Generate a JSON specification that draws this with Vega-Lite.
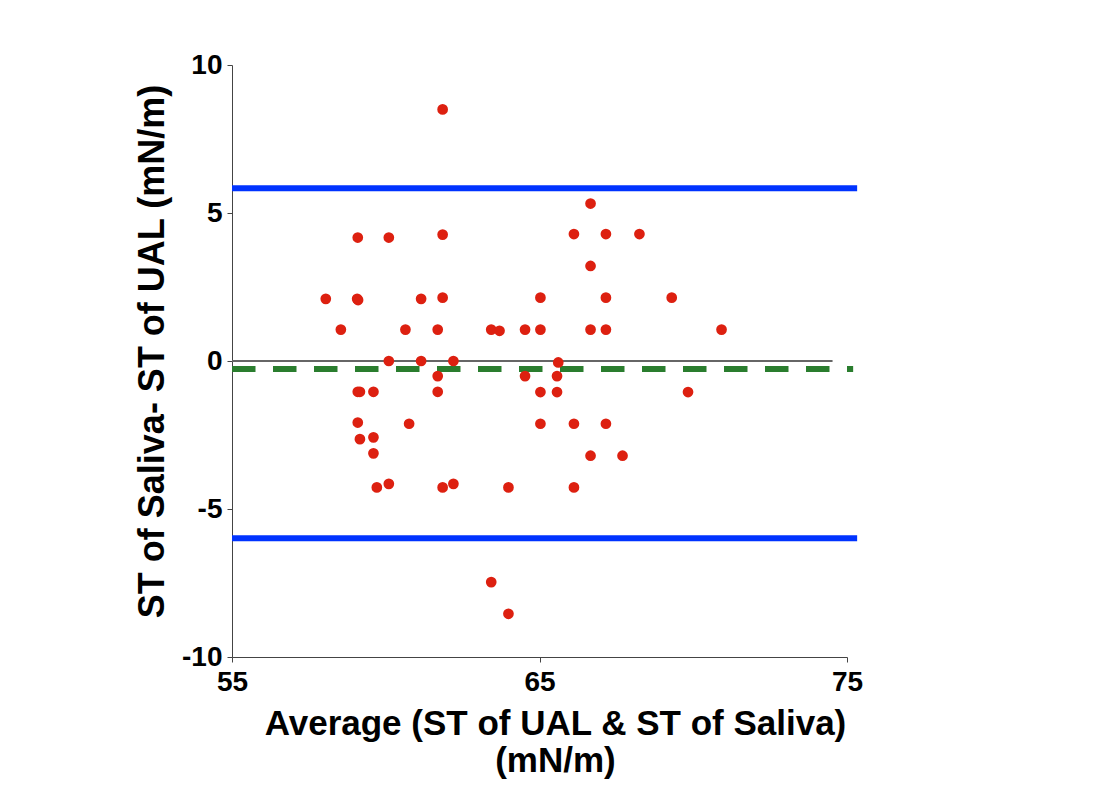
{
  "$schema": "https://vega.github.io/schema/vega-lite/v6.json",
  "width": 615,
  "height": 592,
  "autosize": {"type": "none"},
  "padding": {"left": 232, "top": 65, "right": 262, "bottom": 135},
  "background": "white",
  "config": {
    "view": {"stroke": null},
    "axis": {
      "grid": false,
      "domainColor": "#444",
      "tickColor": "#444",
      "tickSize": 5,
      "labelFont": "Liberation Sans",
      "labelFontWeight": "bold",
      "labelFontSize": 28,
      "labelColor": "black",
      "labelFlush": false,
      "titleFont": "Liberation Sans",
      "titleFontWeight": "bold",
      "titleFontSize": 36,
      "titleColor": "black"
    }
  },
  "datasets": {
    "points": [
      {"avg": 58.05, "diff": 2.1},
      {"avg": 58.54, "diff": 1.06},
      {"avg": 59.09, "diff": 4.17},
      {"avg": 59.07, "diff": 2.1},
      {"avg": 59.1, "diff": 2.06},
      {"avg": 59.09, "diff": -1.04},
      {"avg": 59.16, "diff": -1.04},
      {"avg": 59.6, "diff": -1.04},
      {"avg": 59.09, "diff": -2.08},
      {"avg": 59.16, "diff": -2.64},
      {"avg": 59.6, "diff": -2.58},
      {"avg": 59.6, "diff": -3.12},
      {"avg": 59.71, "diff": -4.27},
      {"avg": 60.1, "diff": -4.15},
      {"avg": 60.1, "diff": 4.17},
      {"avg": 60.1, "diff": 0.0},
      {"avg": 60.64, "diff": 1.06},
      {"avg": 60.76, "diff": -2.12},
      {"avg": 61.15, "diff": 2.1},
      {"avg": 61.15, "diff": 0.0},
      {"avg": 61.69, "diff": 1.06},
      {"avg": 61.69, "diff": -0.51},
      {"avg": 61.69, "diff": -1.04},
      {"avg": 61.85, "diff": 8.5},
      {"avg": 61.85, "diff": 4.27},
      {"avg": 61.85, "diff": 2.14},
      {"avg": 61.85, "diff": -4.27},
      {"avg": 62.2, "diff": -4.15},
      {"avg": 62.2, "diff": 0.0},
      {"avg": 63.43, "diff": 1.06},
      {"avg": 63.7, "diff": 1.02},
      {"avg": 63.43, "diff": -7.47},
      {"avg": 63.99, "diff": -4.27},
      {"avg": 63.99, "diff": -8.54},
      {"avg": 64.53, "diff": 1.06},
      {"avg": 64.53, "diff": -0.51},
      {"avg": 65.03, "diff": 2.14},
      {"avg": 65.03, "diff": 1.06},
      {"avg": 65.03, "diff": -1.05},
      {"avg": 65.03, "diff": -2.12},
      {"avg": 65.57, "diff": -0.51},
      {"avg": 65.57, "diff": -1.05},
      {"avg": 65.61, "diff": -0.05},
      {"avg": 66.12, "diff": 4.29},
      {"avg": 66.12, "diff": -2.12},
      {"avg": 66.12, "diff": -4.27},
      {"avg": 66.66, "diff": 5.32},
      {"avg": 66.66, "diff": 3.21},
      {"avg": 66.66, "diff": 1.06},
      {"avg": 66.66, "diff": -3.2},
      {"avg": 67.16, "diff": 4.29},
      {"avg": 67.16, "diff": 2.14},
      {"avg": 67.16, "diff": 1.06},
      {"avg": 67.16, "diff": -2.12},
      {"avg": 67.7, "diff": -3.2},
      {"avg": 68.25, "diff": 4.29},
      {"avg": 69.3, "diff": 2.14},
      {"avg": 69.83, "diff": -1.05},
      {"avg": 70.92, "diff": 1.06}
    ],
    "zero": [{"x1": 55, "x2": 74.53, "y": 0}],
    "limits": [
      {"x1": 55, "x2": 75.33, "y": 5.84},
      {"x1": 55, "x2": 75.33, "y": -5.99}
    ],
    "mean": [{"x1": 55, "x2": 75.2, "y": -0.27}]
  },
  "layer": [
    {
      "data": {"name": "zero"},
      "mark": {"type": "rule", "color": "#666666", "strokeWidth": 2},
      "encoding": {
        "x": {"field": "x1", "type": "quantitative", "scale": {"domain": [55, 75], "nice": false, "zero": false},
          "axis": {"values": [55, 65, 75], "labelPadding": 6,
            "title": ["Average (ST of UAL & ST of Saliva)", "(mN/m)"],
            "titleFontSize": 35,
            "titleX": 323, "titleY": 77, "titleBaseline": "alphabetic", "titleAlign": "center", "titleLineHeight": 37}},
        "x2": {"field": "x2"},
        "y": {"field": "y", "type": "quantitative", "scale": {"domain": [-10, 10], "nice": false, "zero": false},
          "axis": {"values": [-10, -5, 0, 5, 10], "labelPadding": 5, "labelExpr": "toString(datum.value)",
            "title": "ST of Saliva- ST of UAL (mN/m)",
            "titleAngle": -90, "titleX": -69, "titleY": 286, "titleBaseline": "alphabetic", "titleAlign": "center"}}
      }
    },
    {
      "data": {"name": "limits"},
      "mark": {"type": "rule", "color": "#0033ff", "strokeWidth": 6},
      "encoding": {
        "x": {"field": "x1", "type": "quantitative"},
        "x2": {"field": "x2"},
        "y": {"field": "y", "type": "quantitative"}
      }
    },
    {
      "data": {"name": "mean"},
      "mark": {"type": "rule", "color": "#2a7d2e", "strokeWidth": 6, "strokeDash": [23.5, 17.5]},
      "encoding": {
        "x": {"field": "x1", "type": "quantitative"},
        "x2": {"field": "x2"},
        "y": {"field": "y", "type": "quantitative"}
      }
    },
    {
      "data": {"name": "points"},
      "mark": {"type": "circle", "color": "#dd2010", "opacity": 1, "size": 115},
      "encoding": {
        "x": {"field": "avg", "type": "quantitative"},
        "y": {"field": "diff", "type": "quantitative"}
      }
    }
  ]
}
